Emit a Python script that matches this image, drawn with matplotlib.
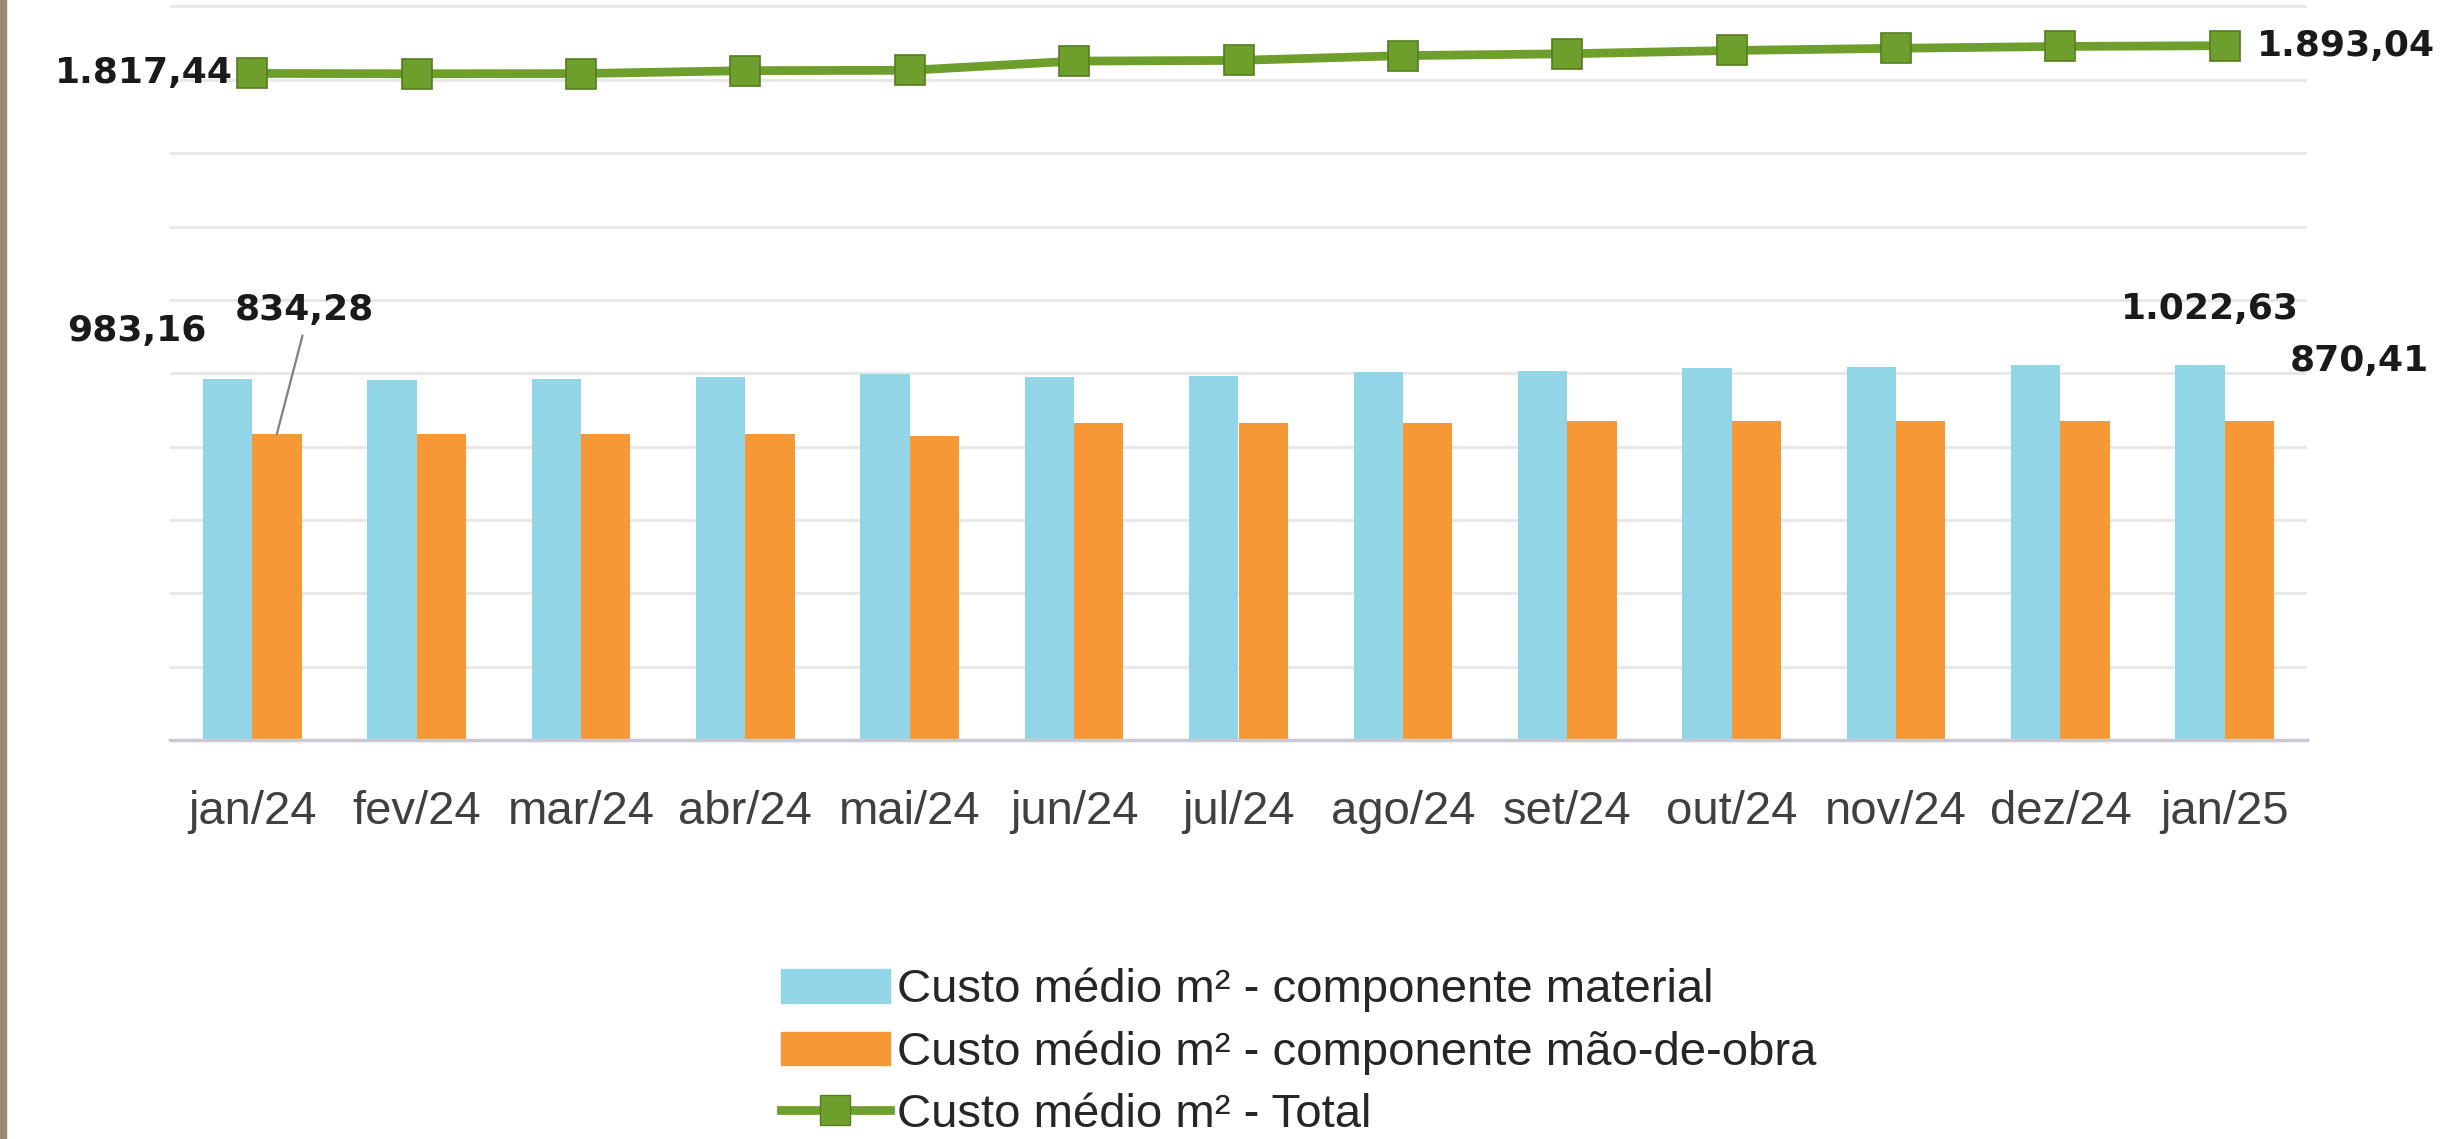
import numpy as np
import matplotlib
matplotlib.use('Agg')
import matplotlib.pyplot as plt
from matplotlib.patches import Rectangle
from matplotlib.lines import Line2D

# data
meses = ['jan/24', 'fev/24', 'mar/24', 'abr/24', 'mai/24', 'jun/24', 'jul/24',
         'ago/24', 'set/24', 'out/24', 'nov/24', 'dez/24', 'jan/25']
material = [983.16, 982.5, 984.0, 991.0, 997.0, 991.0, 992.0,
            1004.0, 1005.0, 1013.0, 1018.0, 1022.0, 1022.63]
mao_obra = [834.28, 834.0, 834.0, 834.5, 829.0, 864.0, 864.0,
            864.0, 869.0, 869.0, 869.0, 870.0, 870.41]
total = [1817.44, 1816.5, 1817.0, 1825.0, 1826.0, 1851.0, 1853.0,
         1866.0, 1871.0, 1880.0, 1886.0, 1891.0, 1893.04]

nomes = ['Custo médio m² - componente material',
         'Custo médio m² - componente mão-de-obra',
         'Custo médio m² - Total']

c_mat = '#92D5E6'
c_mao = '#F79837'
c_tot = '#6E9E2C'
c_tot_edge = '#557d20'

W, H = 2449, 1139
fig = plt.figure(figsize=(W/100., H/100.), dpi=100)
fig.patch.set_facecolor('white')
# strip of photo at left edge
fig.patches.append(Rectangle((0, 0), 6./W, 1, transform=fig.transFigure,
                             color='#9c8a74', zorder=0))

ax = fig.add_axes([170./W, 1-740./H, (2307-170.)/W, 735./H])
x = np.arange(len(meses))
bw = 0.30

ax.bar(x - bw/2, material, width=bw, color=c_mat, zorder=2)
ax.bar(x + bw/2, mao_obra, width=bw, color=c_mao, zorder=2)
ax.plot(x, total, color=c_tot, linewidth=6.3, marker='s', markersize=21,
        markerfacecolor=c_tot, markeredgecolor=c_tot_edge, markeredgewidth=1.2,
        zorder=3)

ax.set_xlim(-0.5, len(meses) - 0.5)
ax.set_ylim(0, 2004)
ax.set_yticks(np.arange(0, 2001, 200))
ax.yaxis.grid(True, color='#E8E8E8', linewidth=2.2, zorder=0)
ax.set_axisbelow(True)
ax.tick_params(axis='y', left=False, labelleft=False)
ax.set_xticks(x)
ax.set_xticklabels(meses, fontsize=34, color='#404040', family='Liberation Sans')
ax.tick_params(axis='x', length=0, pad=36)
for s in ['top', 'right', 'left']:
    ax.spines[s].set_visible(False)
ax.spines['bottom'].set_color('#C9C9D6')
ax.spines['bottom'].set_linewidth(2.5)

lbl = dict(fontsize=26, fontweight='bold', color='#1a1a1a', family='DejaVu Sans',
           textcoords='offset points', va='center')
ax.annotate('1.817,44', xy=(0, total[0]), xytext=(-14, 0), ha='right', **lbl)
ax.annotate('1.893,04', xy=(12, total[-1]), xytext=(23, 0), ha='left', **lbl)
ax.annotate('983,16', xy=(0 - bw/2, material[0]), xytext=(-15, 35), ha='right', **lbl)
ax.annotate('834,28', xy=(0 + bw/2, mao_obra[0]), xytext=(20, 89), ha='center',
            arrowprops=dict(arrowstyle='-', color='#808080', lw=1.6,
                            relpos=(0.5, 0.0), shrinkA=4, shrinkB=0), **lbl)
ax.annotate('1.022,63', xy=(12 - bw/2, material[-1]), xytext=(7, 40), ha='center', **lbl)
ax.annotate('870,41', xy=(12 + bw/2, mao_obra[-1]), xytext=(29, 43), ha='left', **lbl)

handles = [Rectangle((0, 0), 1, 1, color=c_mat),
           Rectangle((0, 0), 1, 1, color=c_mao),
           Line2D([], [], color=c_tot, linewidth=6.3, marker='s', markersize=21,
                  markerfacecolor=c_tot, markeredgecolor=c_tot_edge)]
fig.legend(handles, nomes, loc='upper left', bbox_to_anchor=(781./W, 1-968./H),
           frameon=False, prop={'family': 'Liberation Sans', 'size': 34},
           labelcolor='#262626', handlelength=2.3, handleheight=0.7,
           handletextpad=0.15, labelspacing=0.38, borderpad=0, borderaxespad=0)

fig.savefig('out.png', dpi=100)
